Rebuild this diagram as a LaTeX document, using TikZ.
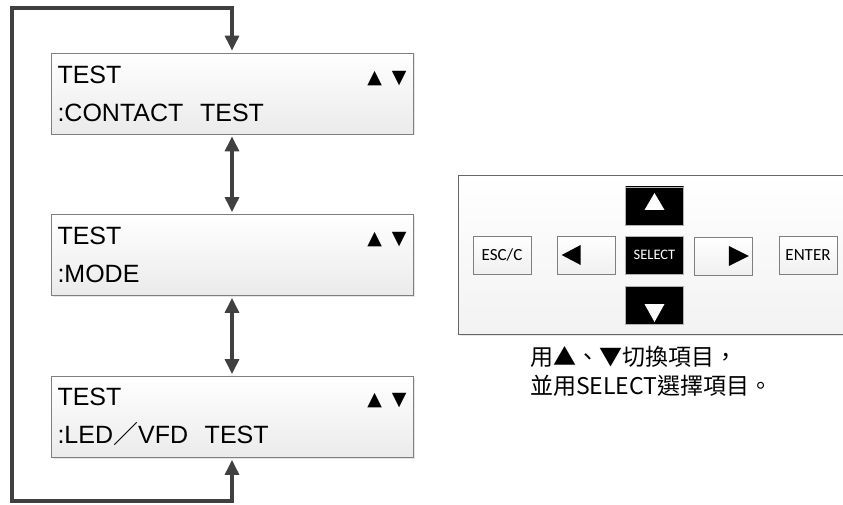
\documentclass[tikz,border=0pt]{standalone}
\usepackage{fontspec}
\setmainfont{Liberation Sans}
\newfontfamily\cjk{Noto Sans CJK TC}
\newfontfamily\sym{DejaVu Sans}
\newfontfamily\keyf{Carlito}
\usetikzlibrary{calc,arrows.meta}
\usetikzlibrary{positioning,shadows}
\definecolor{linegray}{HTML}{404040}
\definecolor{edgegray}{HTML}{7F7F7F}
\newcommand{\updn}{{\sym\fontsize{19}{19}\selectfont ▲\hspace{10pt}▼}\hspace*{16pt}}

\begin{document}
\begin{tikzpicture}[x=1pt,y=-1pt,
  lcd/.style={draw=edgegray, line width=0.8pt, top color=white, bottom color=gray!16, minimum width=362pt, minimum height=81pt, text width=349pt, inner xsep=6pt, align=left, font=\fontsize{25}{38}\selectfont, drop shadow={opacity=0.2, shadow xshift=1.5pt, shadow yshift=-1.5pt}},
  key/.style={draw=edgegray, line width=0.7pt, top color=white, bottom color=gray!12, minimum width=58pt, minimum height=38pt, inner sep=0pt, font=\keyf\fontsize{17}{19}\selectfont},
  blackkey/.style={key, draw=gray!60, top color=black, bottom color=black, text=white},
  link/.style={draw=linegray, line width=3.2pt, {Triangle[width=14pt,length=15pt]}-{Triangle[width=14pt,length=15pt]}, shorten <=2pt, shorten >=2pt},
  note/.style={font=\cjk\fontsize{23}{29}\selectfont, align=left, inner sep=0pt}]
\useasboundingbox (0,0) rectangle (843,505);
\node[lcd](t1) at (232,93.5){TEST\hfill\updn\\:CONTACT\ \ TEST};
\node[lcd](t2) at (232,255){TEST\hfill\updn\\:MODE};
\node[lcd](t3) at (232,417){TEST\hfill\updn\\:LED{\cjk ／}VFD\ \ TEST};
\draw[link] (t1.south) -- (t2.north);
\draw[link] (t2.south) -- (t3.north);
\draw[link] (t3.south) -- ++(0,43) -| (12,8) -| (t1.north);
% key panel
\draw[draw=gray!80!black, line width=0.8pt, top color=white, bottom color=gray!10, drop shadow={opacity=0.2, shadow xshift=1.5pt, shadow yshift=-1.5pt}] (458,175) rectangle (860,334);
\node[key](esc) at (502,255){ESC/C};
\node[key](lft) at (586,255){};
\node[blackkey, font=\keyf\fontsize{14.5}{16}\selectfont](sel) at (654.5,255){SELECT};
\node[key](rgt) at (723.5,256){};
\node[key](ent) at (808,255){ENTER};
\node[blackkey](up) at (654.5,206){};
\node[blackkey](dn) at (654.5,305){};
\fill ($(lft.west)+(5,0)$) -- ++(19,-10) -- ++(0,20) -- cycle;
\fill ($(rgt.east)+(-4,0)$) -- ++(-20,-10) -- ++(0,20) -- cycle;
\fill[white] ($(up.center)+(0,-13)$) -- ++(10,17) -- ++(-20,0) -- cycle;
\fill[white] ($(dn.center)+(0,17)$) -- ++(10,-18) -- ++(-20,0) -- cycle;
\node[note, anchor=west](hint) at (530,371){用▲、▼切換項目，\\並用SELECT選擇項目。};
\end{tikzpicture}
\end{document}
